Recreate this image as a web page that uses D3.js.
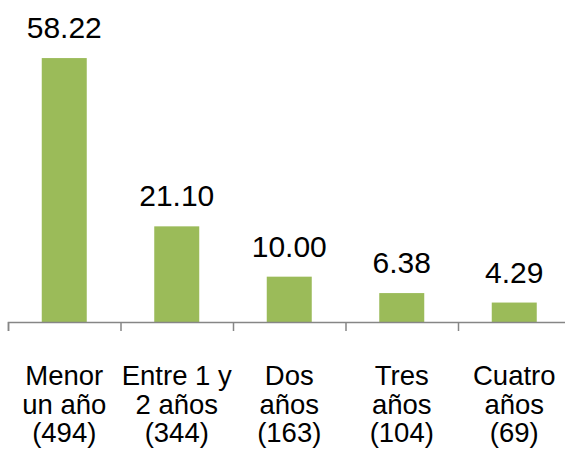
<!DOCTYPE html>
<html>
<head>
<meta charset="utf-8">
<script src="https://cdn.jsdelivr.net/npm/d3@7"></script>
<style>
  body { margin: 0; background: #fff; }
  text { font-family: "Liberation Sans", Arial, sans-serif; fill: #000; }
</style>
</head>
<body>
<div class="chart"></div>
<script>
// values
var categories = ["Menor un año (494)", "Entre 1 y 2 años (344)", "Dos años (163)", "Tres años (104)", "Cuatro años (69)"];
var labelLines = [
  ["Menor", "un año", "(494)"],
  ["Entre 1 y", "2 años", "(344)"],
  ["Dos", "años", "(163)"],
  ["Tres", "años", "(104)"],
  ["Cuatro", "años", "(69)"]
];
var values = [58.22, 21.10, 10.00, 6.38, 4.29];

var width = 565, height = 449;
var axisY = 322;

var svg = d3.select(".chart").append("svg")
    .attr("width", width)
    .attr("height", height);

var x = d3.scaleBand()
    .domain(categories)
    .range([8, 570.5])
    .paddingInner(0.6)
    .paddingOuter(0.3);

var y = d3.scaleLinear()
    .domain([0, 60])
    .range([axisY, 50]);

// bars
svg.selectAll(".bar")
    .data(values)
  .enter().append("rect")
    .attr("class", "bar")
    .attr("x", function(d, i) { return x(categories[i]); })
    .attr("y", function(d) { return y(d); })
    .attr("width", x.bandwidth())
    .attr("height", function(d) { return axisY - y(d); })
    .attr("fill", "#9bbb59");

// value labels
svg.selectAll(".val")
    .data(values)
  .enter().append("text")
    .attr("class", "val")
    .attr("x", function(d, i) { return x(categories[i]) + x.bandwidth() / 2; })
    .attr("y", function(d) { return y(d) - 20; })
    .attr("text-anchor", "middle")
    .style("font-size", "30px")
    .text(function(d) { return d.toFixed(2); });

// axis with ticks on the category boundaries
var edges = d3.scaleLinear().domain([0, categories.length]).range([8, 570.5]);
var axis = svg.append("g")
    .attr("transform", "translate(0," + axisY + ")")
    .call(d3.axisBottom(edges)
      .tickValues(d3.range(categories.length + 1))
      .tickSize(9)
      .tickFormat(""));
axis.selectAll("path, line").attr("stroke", "#868686").attr("stroke-width", 1.5);

// category labels
var cats = svg.selectAll(".cat")
    .data(labelLines)
  .enter().append("g")
    .attr("class", "cat")
    .attr("transform", function(d, i) {
      return "translate(" + (x(categories[i]) + x.bandwidth() / 2) + ",385)";
    });

cats.selectAll("text")
    .data(function(d) { return d; })
  .enter().append("text")
    .attr("y", function(d, j) { return j * 28.5; })
    .attr("text-anchor", "middle")
    .style("font-size", "27.5px")
    .text(function(d) { return d; });
</script>
</body>
</html>
